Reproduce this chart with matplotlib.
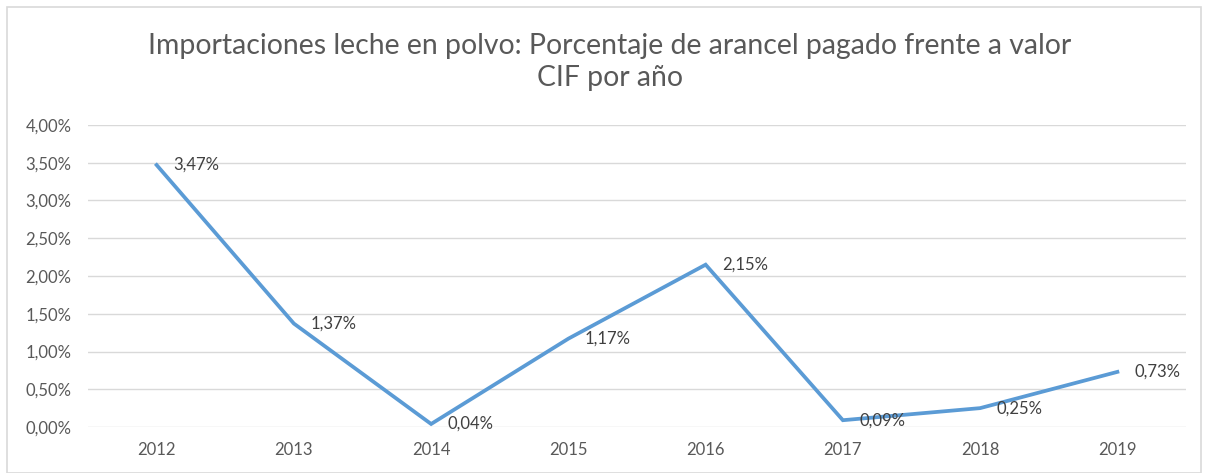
import matplotlib
matplotlib.use("Agg")
import matplotlib.pyplot as plt
from matplotlib.ticker import FuncFormatter
from matplotlib.patches import Rectangle

years = ["2012", "2013", "2014", "2015", "2016", "2017", "2018", "2019"]
values = [3.47, 1.37, 0.04, 1.17, 2.15, 0.09, 0.25, 0.73]
yticks = [0.0, 0.5, 1.0, 1.5, 2.0, 2.5, 3.0, 3.5, 4.0]
title = "Importaciones leche en polvo: Porcentaje de arancel pagado frente a valor\nCIF por año"

plt.rcParams['font.family'] = ['Lato', 'DejaVu Sans']
W, H = 1209, 473
fig = plt.figure(figsize=(W/100, H/100), dpi=100)
fig.patch.set_facecolor("white")
fig.patches.append(Rectangle((7/W, 0), (1201-7)/W, 1-7/H, transform=fig.transFigure,
                             fill=False, edgecolor="#d9d9d9", linewidth=1.2))

ax = fig.add_axes([88/W, 1-427/H, (1186-88)/W, (427-125)/H])
x = list(range(len(years)))
ax.plot(x, values, color="#5B9BD5", linewidth=2.7, solid_joinstyle="miter")
ax.set_xlim(-0.5, len(years)-0.5)
ax.set_ylim(0, 4.0)
ax.set_yticks(yticks)
ax.yaxis.set_major_formatter(FuncFormatter(lambda v, p: f"{v:.2f}%".replace(".", ",")))
ax.set_xticks(x)
ax.set_xticklabels(years)
ax.grid(axis="y", color="#d9d9d9", linewidth=1)
ax.set_axisbelow(True)
for s in ax.spines.values():
    s.set_visible(False)
ax.tick_params(length=0, labelsize=12, colors="#595959")
ax.tick_params(axis="x", pad=11)
ax.tick_params(axis="y", pad=12)
for xi, v in zip(x, values):
    ax.annotate(f"{v:.2f}%".replace(".", ","), (xi, v), xytext=(12, 0), textcoords="offset points",
                ha="left", va="center", fontsize=12, color="#404040")

fig.text(610/W, 1-62/H, title, ha="center", va="center", fontsize=20.4, color="#595959",
         linespacing=1.3)
fig.savefig("out.png", dpi=100)
